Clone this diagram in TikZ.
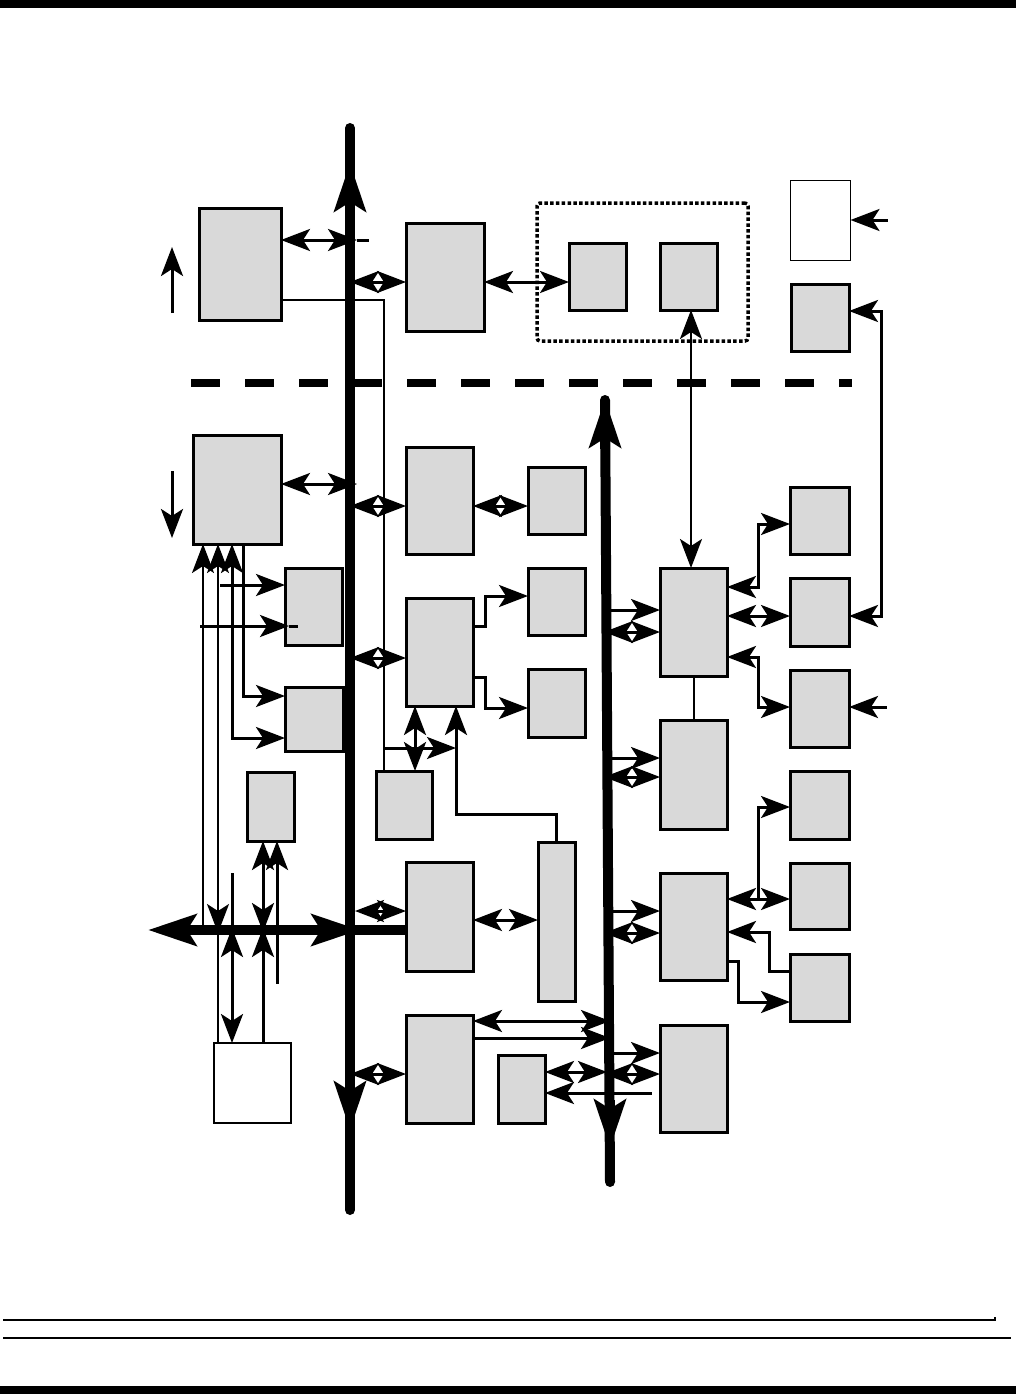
\documentclass[tikz,border=0pt]{standalone}
\usetikzlibrary{arrows.meta}
\definecolor{boxgray}{RGB}{217,217,217}
\begin{document}
\begin{tikzpicture}[x=1pt,y=-1pt,
  blk/.style={draw,line width=3pt,fill=boxgray,inner sep=0pt,outer sep=0pt},
  wbox/.style={draw,line width=2pt,fill=white,inner sep=0pt,outer sep=0pt},
  link/.style={line width=3pt},
  wire/.style={line width=2pt},
  bus/.style={line width=10pt,line cap=round},
  busmark/.style={line width=10pt},
  >={Stealth[length=29pt,width=22pt,inset=7pt]},
  bustip/.tip={Stealth[length=48pt,width=31pt,inset=9pt]}]
\useasboundingbox (0,0) rectangle (1016,1394);
\fill (0,0) rectangle (1016,8);
\fill (0,1386) rectangle (1016,1394);
\draw[line width=1.5pt] (3,1320) -- (995,1320) -- ++(0,-3);
\draw[line width=2pt] (3,1338) -- (1011,1338);
\coordinate (busL) at (350,0);
\coordinate (busR) at (607,0);
\coordinate (busH) at (0,930);
\node[blk,minimum width=82pt,minimum height=112pt] (A) at (240,264) {};
\node[blk,minimum width=78pt,minimum height=108pt] (B) at (445,277) {};
\node[draw,line width=3.5pt,dash pattern=on 3.5pt off 2.3pt,rounded corners=3pt,minimum width=211pt,minimum height=138pt,inner sep=0pt] (frame) at (642.5,272) {};
\node[blk,minimum width=57pt,minimum height=67pt] (C1) at (597.5,276.5) {};
\node[blk,minimum width=57pt,minimum height=67pt] (C2) at (688.5,276.5) {};
\node[wbox,line width=1.5pt,minimum width=60pt,minimum height=80pt] (D) at (820.5,220.5) {};
\node[blk,minimum width=58pt,minimum height=67pt] (E) at (820,317.5) {};
\node[blk,minimum width=88pt,minimum height=109pt] (G) at (237,489.5) {};
\node[blk,minimum width=67pt,minimum height=107pt] (H) at (439.5,500.5) {};
\node[blk,minimum width=57pt,minimum height=67pt] (I) at (556.5,500.5) {};
\node[blk,minimum width=67pt,minimum height=108pt] (J) at (439.5,652) {};
\node[blk,minimum width=57pt,minimum height=67pt] (K) at (556.5,601.5) {};
\node[blk,minimum width=57pt,minimum height=68pt] (L) at (556.5,703) {};
\node[blk,minimum width=57pt,minimum height=77pt] (M) at (313.5,606.5) {};
\node[blk,minimum width=58pt,minimum height=64pt] (N) at (314,719) {};
\node[blk,minimum width=56pt,minimum height=68pt] (Z) at (404,805) {};
\node[blk,minimum width=47pt,minimum height=69pt] (O) at (270.5,806.5) {};
\node[wbox,minimum width=77pt,minimum height=80pt] (P) at (252.5,1083) {};
\node[blk,minimum width=67pt,minimum height=109pt] (Q) at (439.5,916.5) {};
\node[blk,minimum width=67pt,minimum height=108pt] (R) at (439.5,1069) {};
\node[blk,minimum width=37pt,minimum height=159pt] (S) at (556.5,921.5) {};
\node[blk,minimum width=47pt,minimum height=68pt] (T) at (521.5,1089) {};
\node[blk,minimum width=67pt,minimum height=108pt] (U) at (693.5,622) {};
\node[blk,minimum width=67pt,minimum height=109pt] (V) at (693.5,774.5) {};
\node[blk,minimum width=67pt,minimum height=107pt] (W) at (693.5,926.5) {};
\node[blk,minimum width=67pt,minimum height=107pt] (X) at (693.5,1078.5) {};
\node[blk,minimum width=59pt,minimum height=67pt] (F1) at (819.5,520.5) {};
\node[blk,minimum width=59pt,minimum height=68pt] (F2) at (819.5,612) {};
\node[blk,minimum width=59pt,minimum height=77pt] (F3) at (819.5,708.5) {};
\node[blk,minimum width=59pt,minimum height=68pt] (F4) at (819.5,805) {};
\node[blk,minimum width=59pt,minimum height=66pt] (F5) at (819.5,896) {};
\node[blk,minimum width=59pt,minimum height=67pt] (F6) at (819.5,987.5) {};
\draw[line width=8pt,dash pattern=on 29pt off 25pt] (191,383) -- (852,383);
\draw[bus] (350,128) -- (350,1210);
\draw[busmark,-bustip] (350,214) -- (350,163);
\draw[busmark,-bustip] (350,1081) -- (350,1130);
\draw[bus] (605,400) -- (610,1182);
\draw[busmark,-bustip] (605,449) -- (605,399);
\draw[busmark,-bustip] (610,1100) -- (610,1148);
\draw[busmark,bustip-] (148,930) -- (Q.west|-busH);
\draw[busmark,-bustip] (311,930) -- (360,930);
\draw[link,<->] (A.east|-0,240) -- ([xshift=7pt]busL|-0,240);
\draw[link] ([xshift=7pt]busL|-0,240) -- ++(12,0);
\draw[link,->] (172,313) -- (172,247);
\draw[wire] (A.east|-0,300) -| ([xshift=8pt]Z.north west);
\draw[link,<->] (busL|-0,282) -- (B.west|-0,282);
\draw[link,<->] (B.east|-0,282) -- (C1.west|-0,282);
\draw[wire,<->] (C2.south-|691,0) -- (U.north-|691,0);
\draw[link,<-] (D.east|-0,220) -- ++(37,0);
\draw[link,<->] (E.east|-0,311) -- ++(32,0) |- (F2.east|-0,616);
\draw[link,<->] (G.east|-0,484) -- ([xshift=7pt]busL|-0,484);
\draw[link,->] (172,471) -- (172,538);
\draw[link,<->] (busL|-0,506) -- (H.west|-0,506);
\draw[link,<->] (H.east|-0,506) -- (I.west|-0,506);
\draw[link,<->] (busL|-0,658) -- (J.west|-0,658);
\draw[link,->] (J.east|-0,626) -- ++(12,0) |- (K.west|-0,596);
\draw[link,->] (J.east|-0,677) -- ++(12,0) |- (L.west|-0,708);
\draw[link,->] (G.south-|243,0) |- (N.west|-0,696);
\draw[link,<->] (G.south-|232,0) |- (N.west|-0,738);
\draw[wire,<-] (G.south-|203,0) -- ([yshift=5pt]busH-|203,0);
\draw[wire,<-] (G.south-|218,0) -- (P.north-|218,0);
\draw[wire,->] (218,903) -- (218,933);
\draw[link,<-] (M.west|-0,585) -- ++(-65,0);
\draw[link,<-] ([xshift=4pt]M.west|-0,626) -- ++(-89,0);
\draw[link] ([xshift=4pt]M.west|-0,626) -- ++(9,0);
\draw[link,->] ([xshift=8pt]Z.north west|-0,748) -- ([xshift=16.5pt]J.south|-0,748);
\draw[link,<->] (J.south-|415,0) -- (Z.north-|415,0);
\draw[link,<-] ([xshift=16.5pt]J.south) |- (S.north|-0,814) -- (S.north);
\draw[link,<-] (O.south-|263,0) -- (P.north-|263,0);
\draw[link,->] (263,904) -- (263,932);
\draw[link,->] (263,958) -- (263,928);
\draw[link,<-] (O.south-|277,0) -- (277,984);
\draw[link,->] (232,873) -- (P.north-|232,0);
\draw[link,->] (232,958) -- (232,928);
\draw[link,<->] ([xshift=5pt]busL|-0,911) -- (Q.west|-0,911);
\draw[link,<->] (Q.east|-0,920) -- (S.west|-0,920);
\draw[link,<->] (busL|-0,1074) -- (R.west|-0,1074);
\draw[link,<->] (R.east|-0,1021) -- ([xshift=3pt]busR|-0,1021);
\draw[link,->] (R.east|-0,1038) -- ([xshift=3pt]busR|-0,1038);
\draw[link,<->] (T.east|-0,1072) -- (busR|-0,1072);
\draw[link,<-] (T.east|-0,1093) -- ([xshift=-8pt]X.west|-0,1093);
\draw[link,->] ([xshift=3pt]busR|-0,610) -- (U.west|-0,610);
\draw[link,<->] ([xshift=-3pt]busR|-0,632) -- (U.west|-0,632);
\draw[link,->] ([xshift=3pt]busR|-0,758) -- (V.west|-0,758);
\draw[link,<->] ([xshift=-3pt]busR|-0,777) -- (V.west|-0,777);
\draw[link,->] ([xshift=3pt]busR|-0,911) -- (W.west|-0,911);
\draw[link,<->] ([xshift=-3pt]busR|-0,933) -- (W.west|-0,933);
\draw[link,->] ([xshift=3pt]busR|-0,1053) -- (X.west|-0,1053);
\draw[link,<->] ([xshift=-3pt]busR|-0,1074) -- (X.west|-0,1074);
\draw[wire] (U.south) -- (V.north);
\draw[link,<->] (U.east|-0,587) -- ++(31,0) |- (F1.west|-0,524);
\draw[link,<->] (U.east|-0,616) -- (F2.west|-0,616);
\draw[link,<->] (U.east|-0,657) -- ++(31,0) |- (F3.west|-0,707);
\draw[link,<-] (F3.east|-0,707) -- ++(38,0);
\draw[link,<->] (W.east|-0,899) -- (F5.west|-0,899);
\draw[link,->] ([xshift=31pt]W.east|-0,899) |- (F4.west|-0,807);
\draw[link,<-] (W.east|-0,932) -- ++(42,0) |- (F6.west|-0,971);
\draw[link,->] (W.east|-0,961) -- ++(11,0) |- (F6.west|-0,1002);
\end{tikzpicture}
\end{document}
